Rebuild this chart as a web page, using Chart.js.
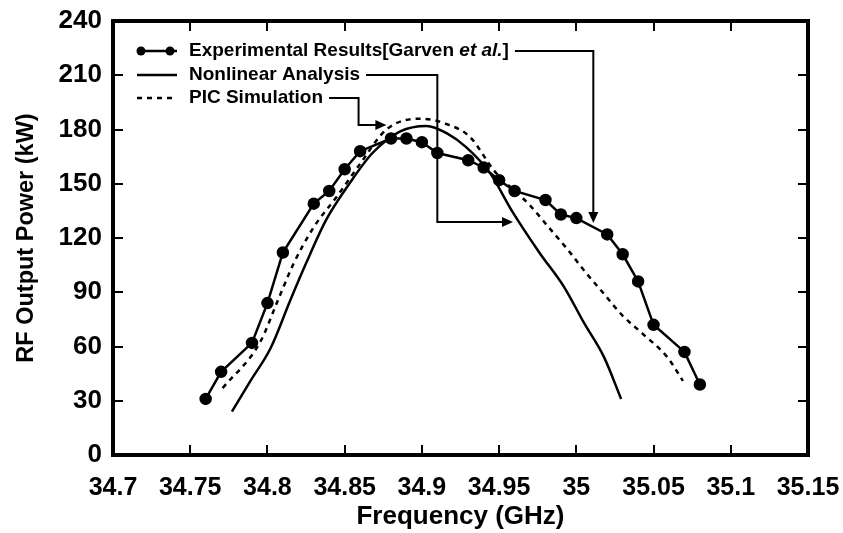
<!DOCTYPE html>
<html>
<head>
<meta charset="utf-8">
<script src="https://cdn.jsdelivr.net/npm/chart.js@4.4.1/dist/chart.umd.min.js"></script>
<style>
  body { margin: 0; background: #fff; }
</style>
</head>
<body>
<canvas id="chart" width="843" height="533"></canvas>
<script>
// Experimental Results [Garven et al.]
const expFreq = [34.76, 34.77, 34.79, 34.80, 34.81, 34.83, 34.84, 34.85, 34.86, 34.88, 34.89, 34.90, 34.91,
                 34.93, 34.94, 34.95, 34.96, 34.98, 34.99, 35.00, 35.02, 35.03, 35.04, 35.05, 35.07, 35.08];
const expPower = [31, 46, 62, 84, 112, 139, 146, 158, 168, 175, 175, 173, 167,
                  163, 159, 152, 146, 141, 133, 131, 122, 111, 96, 72, 57, 39];

// Nonlinear Analysis
const nlFreq = [34.777, 34.789, 34.802, 34.815, 34.825, 34.838, 34.853, 34.868, 34.886, 34.903,
                34.916, 34.929, 34.944, 34.959, 34.976, 34.992, 35.005, 35.018, 35.029];
const nlPower = [24, 41, 59, 86, 106, 130, 150, 167, 179, 182,
                 178, 170, 156, 134, 112, 93, 73, 54, 31];

// PIC Simulation
const picFreq = [34.771, 34.795, 34.807, 34.817, 34.830, 34.845, 34.860, 34.877, 34.899, 34.916,
                 34.931, 34.947, 34.970, 34.982, 34.994, 35.006, 35.018, 35.030, 35.043, 35.059, 35.069];
const picPower = [37, 62, 86, 106, 126, 143, 161, 180, 186, 183,
                  176, 157, 138, 126, 114, 101, 89, 77, 67, 54, 41];

const xTicks = [34.7, 34.75, 34.8, 34.85, 34.9, 34.95, 35, 35.05, 35.1, 35.15];
const yTicks = [0, 30, 60, 90, 120, 150, 180, 210, 240];

const legendLabels = ['Experimental Results[Garven ', 'Nonlinear Analysis', 'PIC Simulation'];

// arrow bends in data units, null y = legend row height
const arrowPaths = [
  [[35.011, null], [35.011, 128.3]],
  [[34.910, null], [34.910, 128.9], [34.959, 128.9]],
  [[34.859, null], [34.859, 182.5], [34.877, 182.5]]
];

const FONT = '"Liberation Sans", Arial, sans-serif';
Chart.defaults.font.family = FONT;
Chart.defaults.color = '#000';

function toPoints(xs, ys) {
  return xs.map((x, i) => ({ x: x, y: ys[i] }));
}

function arrowHead(ctx, x, y, dir) {
  const L = 11, W = 5;
  ctx.beginPath();
  if (dir === 'down') {
    ctx.moveTo(x, y); ctx.lineTo(x - W, y - L); ctx.lineTo(x + W, y - L);
  } else {
    ctx.moveTo(x, y); ctx.lineTo(x - L, y - W); ctx.lineTo(x - L, y + W);
  }
  ctx.closePath();
  ctx.fill();
}

const framePlugin = {
  id: 'frame',
  afterDraw(chart) {
    const { ctx, chartArea: a, scales } = chart;
    ctx.save();
    ctx.strokeStyle = '#000';
    ctx.fillStyle = '#000';

    // inner ticks
    ctx.lineWidth = 2;
    ctx.beginPath();
    xTicks.slice(1, -1).forEach(v => {
      const px = Math.round(scales.x.getPixelForValue(v));
      ctx.moveTo(px, a.bottom); ctx.lineTo(px, a.bottom - 10);
      ctx.moveTo(px, a.top); ctx.lineTo(px, a.top + 10);
    });
    yTicks.slice(1, -1).forEach(v => {
      const py = Math.round(scales.y.getPixelForValue(v));
      ctx.moveTo(a.left, py); ctx.lineTo(a.left + 10, py);
      ctx.moveTo(a.right, py); ctx.lineTo(a.right - 10, py);
    });
    ctx.stroke();

    // frame
    ctx.lineWidth = 4;
    ctx.strokeRect(a.left, a.top, a.right - a.left, a.bottom - a.top);

    // legend
    const rows = [a.top + 30, a.top + 54, a.top + 77];
    const sx0 = a.left + 24, sx1 = a.left + 64, tx = a.left + 76;
    ctx.lineWidth = 2.5;
    rows.forEach((ry, i) => {
      ctx.beginPath();
      ctx.setLineDash(i === 2 ? [5, 5] : []);
      ctx.moveTo(sx0, ry); ctx.lineTo(sx1, ry);
      ctx.stroke();
    });
    ctx.setLineDash([]);
    [sx0 + 4, sx1 - 7].forEach(px => {
      ctx.beginPath();
      ctx.arc(px, rows[0], 4.5, 0, Math.PI * 2);
      ctx.fill();
    });

    ctx.textBaseline = 'middle';
    const ends = [];
    ctx.font = 'bold 19px ' + FONT;
    ctx.fillText(legendLabels[0], tx, rows[0]);
    let w = tx + ctx.measureText(legendLabels[0]).width;
    ctx.font = 'italic bold 19px ' + FONT;
    ctx.fillText('et al.', w, rows[0]);
    w += ctx.measureText('et al.').width;
    ctx.font = 'bold 19px ' + FONT;
    ctx.fillText(']', w, rows[0]);
    ends.push(w + ctx.measureText(']').width);
    for (let i = 1; i < 3; i++) {
      ctx.fillText(legendLabels[i], tx, rows[i]);
      ends.push(tx + ctx.measureText(legendLabels[i]).width);
    }

    // arrows from legend to curves
    ctx.lineWidth = 2;
    arrowPaths.forEach((path, i) => {
      const pts = path.map(p => [scales.x.getPixelForValue(p[0]), p[1] === null ? rows[i] : scales.y.getPixelForValue(p[1])]);
      ctx.beginPath();
      ctx.moveTo(ends[i] + 6, rows[i]);
      pts.forEach((p, k) => {
        const last = k === pts.length - 1;
        if (last) {
          const prev = pts[k - 1];
          const down = Math.abs(p[0] - prev[0]) < 0.5;
          ctx.lineTo(down ? p[0] : p[0] - 10, down ? p[1] - 10 : p[1]);
        } else {
          ctx.lineTo(p[0], p[1]);
        }
      });
      ctx.stroke();
      const tip = pts[pts.length - 1], prev = pts[pts.length - 2];
      arrowHead(ctx, tip[0], tip[1], Math.abs(tip[0] - prev[0]) < 0.5 ? 'down' : 'right');
    });
    ctx.restore();
  }
};

new Chart(document.getElementById('chart'), {
  type: 'scatter',
  data: {
    datasets: [
      {
        label: 'Experimental Results[Garven et al.]',
        data: toPoints(expFreq, expPower),
        showLine: true,
        borderColor: '#000',
        backgroundColor: '#000',
        borderWidth: 2.5,
        pointRadius: 5,
        pointHoverRadius: 5,
        tension: 0
      },
      {
        label: 'Nonlinear Analysis',
        data: toPoints(nlFreq, nlPower),
        showLine: true,
        borderColor: '#000',
        borderWidth: 2.5,
        pointRadius: 0,
        tension: 0.4,
        cubicInterpolationMode: 'monotone'
      },
      {
        label: 'PIC Simulation',
        data: toPoints(picFreq, picPower),
        showLine: true,
        borderColor: '#000',
        borderWidth: 2.5,
        borderDash: [5, 5],
        pointRadius: 0,
        tension: 0.4,
        cubicInterpolationMode: 'monotone'
      }
    ]
  },
  options: {
    responsive: false,
    animation: false,
    devicePixelRatio: 1,
    layout: { padding: { top: 21, right: 35, left: 0, bottom: 0 } },
    plugins: {
      legend: { display: false },
      tooltip: { enabled: false }
    },
    scales: {
      x: {
        type: 'linear',
        min: 34.7,
        max: 35.15,
        afterBuildTicks: s => { s.ticks = xTicks.map(v => ({ value: v })); },
        afterFit: s => { s.height = 78; s.paddingLeft = 0; s.paddingRight = 0; },
        grid: { display: false, drawTicks: false },
        border: { display: false },
        ticks: {
          autoSkip: false,
          maxRotation: 0,
          padding: 18,
          color: '#000',
          font: { size: 25, weight: 'bold' },
          callback: v => String(Math.round(v * 100) / 100)
        },
        title: {
          display: true,
          text: 'Frequency (GHz)',
          color: '#000',
          font: { size: 26, weight: 'bold' },
          padding: { top: 0, bottom: 1 }
        }
      },
      y: {
        min: 0,
        max: 240,
        afterBuildTicks: s => { s.ticks = yTicks.map(v => ({ value: v })); },
        afterFit: s => { s.width = 113; s.paddingTop = 0; s.paddingBottom = 0; },
        grid: { display: false, drawTicks: false },
        border: { display: false },
        ticks: {
          padding: 11,
          color: '#000',
          font: { size: 26, weight: 'bold' }
        },
        title: {
          display: true,
          text: 'RF Output Power (kW)',
          color: '#000',
          font: { size: 23.5, weight: 'bold' },
          padding: { top: 12, bottom: 0 }
        }
      }
    }
  },
  plugins: [framePlugin]
});
</script>
</body>
</html>
